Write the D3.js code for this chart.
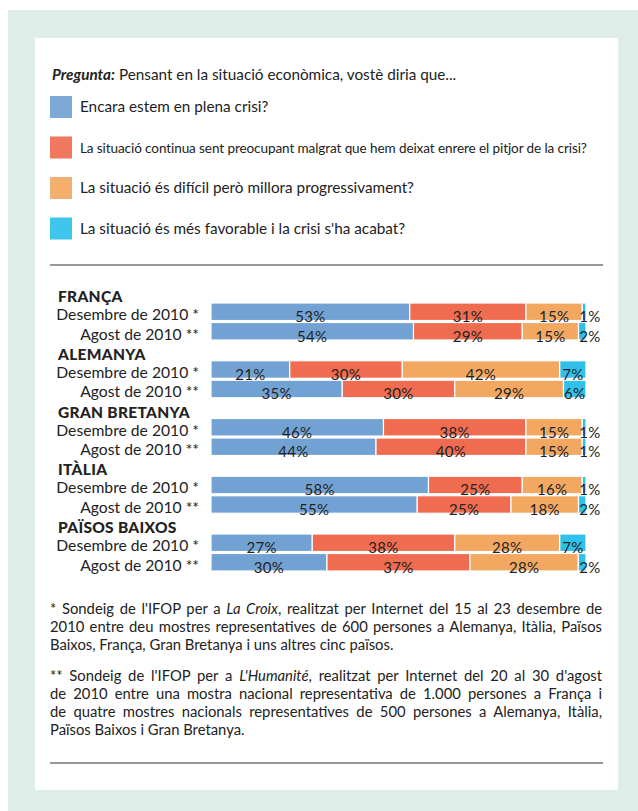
<!DOCTYPE html>
<html>
<head>
<meta charset="utf-8">
<script src="https://cdn.jsdelivr.net/npm/d3@7"></script>
<style>
  body { margin: 0; background: #fff; }
  svg text { font-family: Lato, "Open Sans", sans-serif; fill: #222; }
</style>
</head>
<body>
<div id="chart"></div>
<script>
var countries = ["FRANÇA", "ALEMANYA", "GRAN BRETANYA", "ITÀLIA", "PAÏSOS BAIXOS"];
var periods = ["Desembre de 2010 *", "Agost de 2010 **"];
var answers = [
  "Encara estem en plena crisi?",
  "La situació continua sent preocupant malgrat que hem deixat enrere el pitjor de la crisi?",
  "La situació és difícil però millora progressivament?",
  "La situació és més favorable i la crisi s'ha acabat?"
];
// one value per country x period (Dec, Aug)
var plenaCrisi = [53, 54, 21, 35, 46, 44, 58, 55, 27, 30];
var preocupant = [31, 29, 30, 30, 38, 40, 25, 25, 38, 37];
var millora    = [15, 15, 42, 29, 15, 15, 16, 18, 28, 28];
var acabada    = [1, 2, 7, 6, 1, 1, 1, 2, 7, 2];

var colors = ["#72a2d3", "#ef6c50", "#f3a862", "#2fc1ea"];

var footnotes = [
  [["* Sondeig de l'IFOP per a ", 0], ["La Croix", 1], [", realitzat per Internet del 15 al 23 desembre de", 0]],
  [["2010 entre deu mostres representatives de 600 persones a Alemanya, Itàlia, Països", 0]],
  [["Baixos, França, Gran Bretanya i uns altres cinc països.", 0]],
  null,
  [["** Sondeig de l'IFOP per a ", 0], ["L'Humanité", 1], [", realitzat per Internet del 20 al 30 d'agost", 0]],
  [["de 2010 entre una mostra nacional representativa de 1.000 persones a França i", 0]],
  [["de quatre mostres nacionals representatives de 500 persones a Alemanya, Itàlia,", 0]],
  [["Països Baixos i Gran Bretanya.", 0]]
];

var width = 638, height = 811;
var keys = ["plena", "preocupant", "millora", "acabada"];

var rows = [];
countries.forEach(function(c, i) {
  periods.forEach(function(p, j) {
    var k = i * 2 + j;
    rows.push({country: c, period: p, plena: plenaCrisi[k], preocupant: preocupant[k], millora: millora[k], acabada: acabada[k]});
  });
});

var svg = d3.select("#chart").append("svg")
    .attr("width", width)
    .attr("height", height);

svg.append("rect").attr("x", 8).attr("y", 10).attr("width", width - 8).attr("height", height - 10).attr("fill", "#deede7");
svg.append("rect").attr("x", 35).attr("y", 38).attr("width", 583).attr("height", 752).attr("fill", "#fff");

// question
var q = svg.append("text").attr("x", 52).attr("y", 80).style("font-size", "15.3px");
q.append("tspan").text("Pregunta:").style("font-weight", "bold").style("font-style", "italic");
q.append("tspan").text(" Pensant en la situació econòmica, vostè diria que...");

// legend
var leg = svg.selectAll(".leg")
    .data(answers)
    .enter().append("g")
    .attr("class", "leg")
    .attr("transform", function(d, i) { return "translate(50," + (96 + i * 40.5) + ")"; });

leg.append("rect")
    .attr("width", 22)
    .attr("height", 22)
    .attr("fill", function(d, i) { return colors[i]; })
    .attr("opacity", 0.92);

leg.append("text")
    .attr("x", 30)
    .attr("y", 16)
    .style("font-size", "15.3px")
    .text(function(d) { return d; })
    .each(function() {
      // long answer is set smaller so it fits the panel
      var len = this.getComputedTextLength();
      if (len > 516) {
        d3.select(this).style("font-size", (15.3 * 516 / len) + "px").style("letter-spacing", "-0.1px");
      }
    });

svg.append("line").attr("x1", 50).attr("x2", 603).attr("y1", 265).attr("y2", 265)
    .attr("stroke", "#333").attr("stroke-width", 1.2);

// bars
var x = d3.scaleLinear().domain([0, 1]).range([211, 586]);
var yGroup = d3.scaleBand().domain(countries).range([303, 303 + 57.75 * countries.length]);
var yRow = d3.scaleBand().domain(periods).range([0, 37]).paddingInner(0.1);

var stack = d3.stack().keys(keys).offset(d3.stackOffsetExpand);
var series = stack(rows);

var grp = svg.selectAll(".country")
    .data(countries)
    .enter().append("g")
    .attr("class", "country")
    .attr("transform", function(d) { return "translate(0," + yGroup(d) + ")"; });

grp.append("text")
    .attr("x", 58)
    .attr("y", -1)
    .style("font-size", "15.5px")
    .style("font-weight", "900")
    .style("letter-spacing", "0.3px")
    .text(function(d) { return d; });

grp.selectAll(".plabel")
    .data(periods)
    .enter().append("text")
    .attr("class", "plabel")
    .attr("x", 199)
    .attr("y", function(d) { return yRow(d) + yRow.bandwidth() - 0.5; })
    .attr("text-anchor", "end")
    .style("font-size", "15.7px")
    .text(function(d) { return d; });

function rowY(d) { return yGroup(d.data.country) + yRow(d.data.period); }

var layer = svg.selectAll(".layer")
    .data(series)
    .enter().append("g")
    .attr("class", "layer")
    .attr("fill", function(d, i) { return colors[i]; });

layer.selectAll("rect")
    .data(function(d) { return d; })
    .enter().append("rect")
    .attr("x", function(d) { return x(d[0]); })
    .attr("width", function(d) { return x(d[1]) - x(d[0]); })
    .attr("y", rowY)
    .attr("height", yRow.bandwidth())
    .attr("stroke", "#fff")
    .attr("stroke-width", 1.2);

layer.each(function(s) {
  d3.select(this).selectAll("text")
      .data(s)
      .enter().append("text")
      .attr("x", function(d) {
        var v = d.data[s.key];
        return v <= 2 ? x(1) + 4 : (x(d[0]) + x(d[1])) / 2;
      })
      .attr("y", function(d) { return rowY(d) + yRow.bandwidth() + 1.5; })
      .attr("text-anchor", "middle")
      .style("font-size", "15px")
      .style("letter-spacing", "0.3px")
      .text(function(d) { return d.data[s.key] + "%"; });
});

// footnotes, justified
var fn = svg.append("g").style("font-size", "14.8px");
var lineY = 614;
footnotes.forEach(function(parts, i) {
  if (!parts) { lineY += 13; return; }
  var t = fn.append("text").attr("x", 50).attr("y", lineY);
  parts.forEach(function(p) {
    t.append("tspan").text(p[0]).style("font-style", p[1] ? "italic" : "normal");
  });
  var last = (i == footnotes.length - 1) || !footnotes[i + 1];
  if (!last) {
    var txt = parts.map(function(p) { return p[0]; }).join("");
    var spaces = txt.split(" ").length - 1;
    var len = t.node().getComputedTextLength();
    t.style("word-spacing", ((552 - len) / spaces) + "px");
  }
  lineY += 18;
});

svg.append("line").attr("x1", 50).attr("x2", 603).attr("y1", 763).attr("y2", 763)
    .attr("stroke", "#333").attr("stroke-width", 1.2);
</script>
</body>
</html>
